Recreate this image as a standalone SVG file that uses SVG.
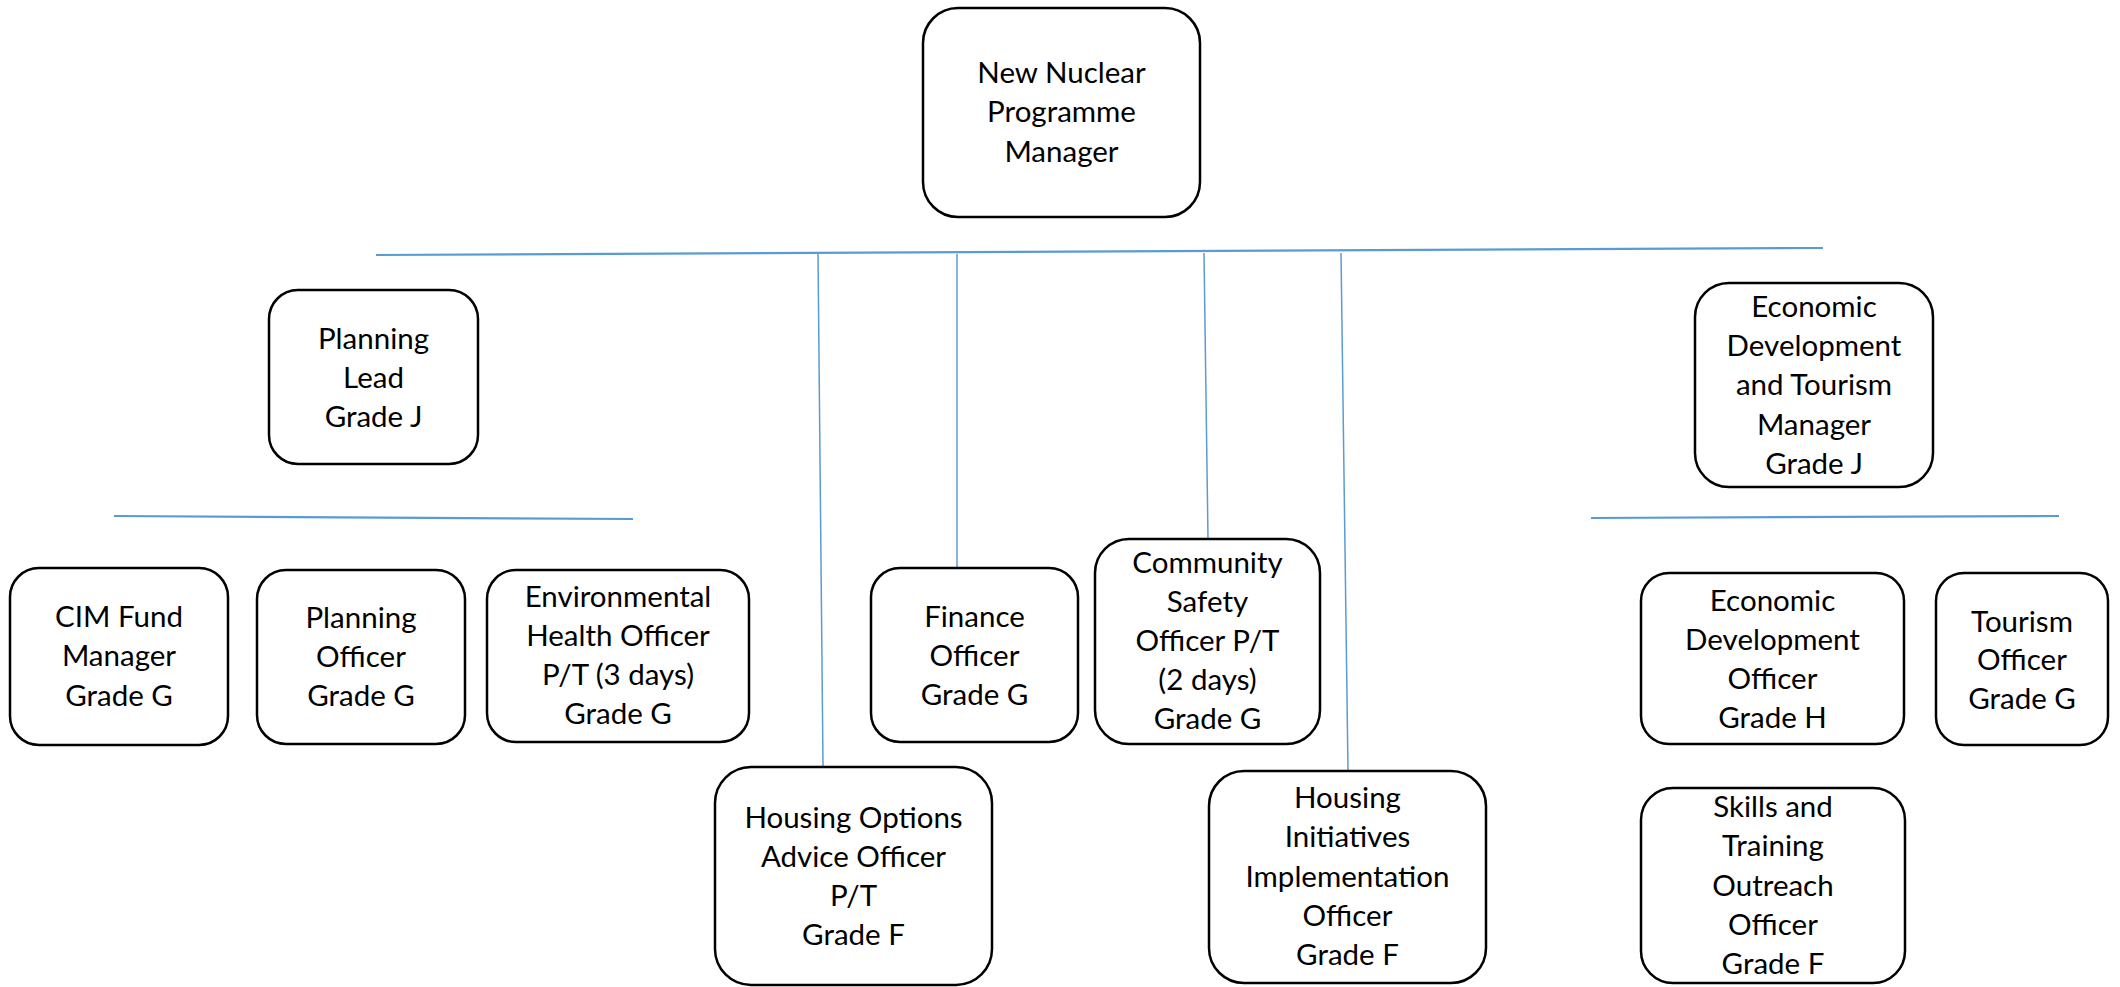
<svg xmlns="http://www.w3.org/2000/svg" width="2120" height="987" viewBox="0 0 2120 987">
<style>
.box{fill:#ffffff;stroke:#000000;stroke-width:2.5}
.t{font-family:Lato,"Open Sans","Liberation Sans",sans-serif;font-size:29.5px;fill:#000000;text-anchor:middle}
.c{stroke:#5b9bd5;fill:none}
.h{stroke-width:2.2}
.v{stroke-width:1.5}
</style>
<rect width="2120" height="987" fill="#ffffff"/>
<g id="connectors">
<line class="c h" x1="376" y1="255" x2="1823" y2="248"/>
<line class="c v" x1="818" y1="254" x2="823" y2="766"/>
<line class="c v" x1="957" y1="254" x2="957" y2="568"/>
<line class="c v" x1="1204" y1="253" x2="1208" y2="539"/>
<line class="c v" x1="1341" y1="253" x2="1348" y2="771"/>
<line class="c h" x1="114" y1="516" x2="633" y2="519"/>
<line class="c h" x1="1591" y1="518" x2="2059" y2="516"/>
</g>
<g id="new-nuclear-programme-manager">
<rect class="box" x="923" y="8" width="277" height="209" rx="35"/>
<text class="t" x="1061.5" y="83">New Nuclear</text>
<text class="t" x="1061.5" y="122">Programme</text>
<text class="t" x="1061.5" y="162">Manager</text>
</g>
<g id="planning-lead">
<rect class="box" x="269" y="290" width="209" height="174" rx="29"/>
<text class="t" x="373.5" y="349">Planning</text>
<text class="t" x="373.5" y="388">Lead</text>
<text class="t" x="373.5" y="427">Grade J</text>
</g>
<g id="economic-development-tourism-manager">
<rect class="box" x="1695" y="283" width="238" height="204" rx="34"/>
<text class="t" x="1814" y="317">Economic</text>
<text class="t" x="1814" y="356">Development</text>
<text class="t" x="1814" y="395">and Tourism</text>
<text class="t" x="1814" y="435">Manager</text>
<text class="t" x="1814" y="474">Grade J</text>
</g>
<g id="cim-fund-manager">
<rect class="box" x="10" y="568" width="218" height="177" rx="29"/>
<text class="t" x="119" y="627">CIM Fund</text>
<text class="t" x="119" y="666">Manager</text>
<text class="t" x="119" y="706">Grade G</text>
</g>
<g id="planning-officer">
<rect class="box" x="257" y="570" width="208" height="174" rx="29"/>
<text class="t" x="361" y="628">Planning</text>
<text class="t" x="361" y="667">Officer</text>
<text class="t" x="361" y="706">Grade G</text>
</g>
<g id="environmental-health-officer">
<rect class="box" x="487" y="570" width="262" height="172" rx="29"/>
<text class="t" x="618" y="607">Environmental</text>
<text class="t" x="618" y="646">Health Officer</text>
<text class="t" x="618" y="685">P/T (3 days)</text>
<text class="t" x="618" y="724">Grade G</text>
</g>
<g id="finance-officer">
<rect class="box" x="871" y="568" width="207" height="174" rx="29"/>
<text class="t" x="974.5" y="627">Finance</text>
<text class="t" x="974.5" y="666">Officer</text>
<text class="t" x="974.5" y="705">Grade G</text>
</g>
<g id="community-safety-officer">
<rect class="box" x="1095" y="539" width="225" height="205" rx="34"/>
<text class="t" x="1207.5" y="573">Community</text>
<text class="t" x="1207.5" y="612">Safety</text>
<text class="t" x="1207.5" y="651">Officer P/T</text>
<text class="t" x="1207.5" y="690">(2 days)</text>
<text class="t" x="1207.5" y="729">Grade G</text>
</g>
<g id="housing-options-advice-officer">
<rect class="box" x="715" y="767" width="277" height="218" rx="36"/>
<text class="t" x="853.5" y="828">Housing Options</text>
<text class="t" x="853.5" y="867">Advice Officer</text>
<text class="t" x="853.5" y="906">P/T</text>
<text class="t" x="853.5" y="945">Grade F</text>
</g>
<g id="housing-initiatives-implementation-officer">
<rect class="box" x="1209" y="771" width="277" height="212" rx="35"/>
<text class="t" x="1347.5" y="808">Housing</text>
<text class="t" x="1347.5" y="847">Initiatives</text>
<text class="t" x="1347.5" y="887">Implementation</text>
<text class="t" x="1347.5" y="926">Officer</text>
<text class="t" x="1347.5" y="965">Grade F</text>
</g>
<g id="economic-development-officer">
<rect class="box" x="1641" y="573" width="263" height="171" rx="28"/>
<text class="t" x="1772.5" y="611">Economic</text>
<text class="t" x="1772.5" y="650">Development</text>
<text class="t" x="1772.5" y="689">Officer</text>
<text class="t" x="1772.5" y="728">Grade H</text>
</g>
<g id="tourism-officer">
<rect class="box" x="1936" y="573" width="172" height="172" rx="28"/>
<text class="t" x="2022" y="632">Tourism</text>
<text class="t" x="2022" y="670">Officer</text>
<text class="t" x="2022" y="709">Grade G</text>
</g>
<g id="skills-training-outreach-officer">
<rect class="box" x="1641" y="788" width="264" height="195" rx="32"/>
<text class="t" x="1773" y="817">Skills and</text>
<text class="t" x="1773" y="856">Training</text>
<text class="t" x="1773" y="896">Outreach</text>
<text class="t" x="1773" y="935">Officer</text>
<text class="t" x="1773" y="974">Grade F</text>
</g>
</svg>
